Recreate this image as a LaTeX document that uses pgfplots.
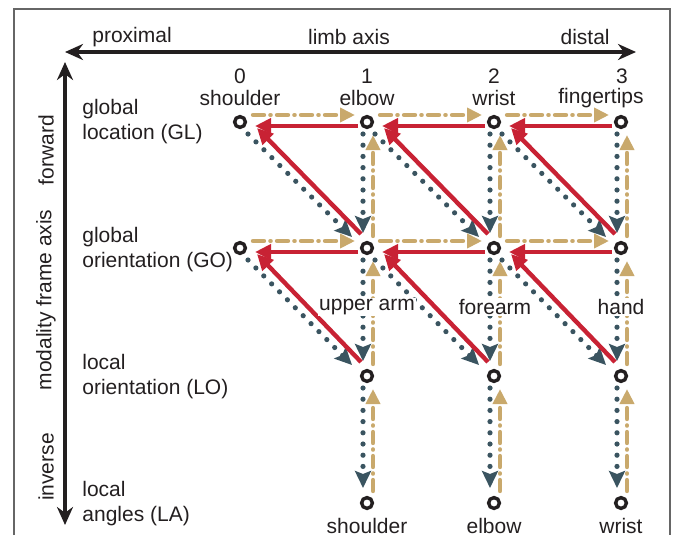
\documentclass[border=0pt]{standalone}
\usepackage{fontspec}
\setmainfont{Liberation Sans}
\usepackage{pgfplots}
\pgfplotsset{compat=1.18}
\usetikzlibrary{arrows.meta}

\definecolor{fwdred}{RGB}{200,34,52}
\definecolor{invtan}{RGB}{201,169,108}
\definecolor{dotteal}{RGB}{58,84,96}
\definecolor{ink}{RGB}{35,31,32}

\begin{document}
\begin{tikzpicture}[font=\fontsize{10.5}{12.5}\selectfont,
  tanarrow/.style={invtan, line width=2.2pt, line cap=round,
    dash pattern=on 5.5pt off 3.2pt on 0.1pt off 3.2pt,
    -{Triangle[length=7.5pt,width=7pt]}},
  redarrow/.style={fwdred, line width=2.2pt,
    -{Triangle[length=8pt,width=7.5pt]}},
  tealarrow/.style={dotteal, line width=2.6pt, line cap=round,
    dash pattern=on 0pt off 5.6pt,
    -{Stealth[length=8.5pt,width=8pt,inset=1.5pt]}},
  lbl/.style={text=ink, inner sep=0pt}]
\begin{axis}[
  width=336.5pt, height=267.5pt, scale only axis,
  xmin=0, xmax=673, ymin=0, ymax=535, y dir=reverse,
  hide axis, clip=false]

% extent and frame
\addplot[draw=none] coordinates {(0,0) (673,535)};
\addplot[gray!80!black, line width=0.6pt] coordinates {(14,535) (14,9) (670,9) (670,535)};

% limb axis and modality frame axis
\addplot[ink, line width=1.6pt, {Stealth[length=9pt,width=8pt]}-{Stealth[length=9pt,width=8pt]}]
  coordinates {(65,52) (636,52)};
\addplot[ink, line width=1.6pt, {Stealth[length=9pt,width=8pt]}-{Stealth[length=9pt,width=8pt]}]
  coordinates {(65,62) (65,525)};

% forward chain, tan dash-dot (proximal -> distal)
\addplot[tanarrow] coordinates {(253,115) (355,115)};
\addplot[tanarrow] coordinates {(380,115) (482,115)};
\addplot[tanarrow] coordinates {(507,115) (609,115)};
\addplot[tanarrow] coordinates {(253,241) (355,241)};
\addplot[tanarrow] coordinates {(380,241) (482,241)};
\addplot[tanarrow] coordinates {(507,241) (609,241)};

% tan vertical (upwards)
\addplot[tanarrow] coordinates {(373,236) (373,135)};
\addplot[tanarrow] coordinates {(500,236) (500,135)};
\addplot[tanarrow] coordinates {(627,236) (627,135)};
\addplot[tanarrow] coordinates {(373,364) (373,261)};
\addplot[tanarrow] coordinates {(500,364) (500,261)};
\addplot[tanarrow] coordinates {(627,364) (627,261)};
\addplot[tanarrow] coordinates {(373,491) (373,389)};
\addplot[tanarrow] coordinates {(500,491) (500,389)};
\addplot[tanarrow] coordinates {(627,491) (627,389)};

% teal dotted diagonals
\addplot[tealarrow] coordinates {(248,134) (352,237)};
\addplot[tealarrow] coordinates {(375,134) (479,237)};
\addplot[tealarrow] coordinates {(502,134) (606,237)};
\addplot[tealarrow] coordinates {(248,260) (352,365)};
\addplot[tealarrow] coordinates {(375,260) (479,365)};
\addplot[tealarrow] coordinates {(502,260) (606,365)};

% teal dotted vertical (downwards)
\addplot[tealarrow] coordinates {(363,134) (363,233)};
\addplot[tealarrow] coordinates {(490,134) (490,233)};
\addplot[tealarrow] coordinates {(617,134) (617,233)};
\addplot[tealarrow] coordinates {(363,260) (363,361)};
\addplot[tealarrow] coordinates {(490,260) (490,361)};
\addplot[tealarrow] coordinates {(617,260) (617,361)};
\addplot[tealarrow] coordinates {(363,388) (363,488)};
\addplot[tealarrow] coordinates {(490,388) (490,488)};
\addplot[tealarrow] coordinates {(617,388) (617,488)};

% red horizontal (distal -> proximal)
\addplot[redarrow] coordinates {(358,126) (255,126)};
\addplot[redarrow] coordinates {(485,126) (382,126)};
\addplot[redarrow] coordinates {(612,126) (509,126)};
\addplot[redarrow] coordinates {(358,252) (255,252)};
\addplot[redarrow] coordinates {(485,252) (382,252)};
\addplot[redarrow] coordinates {(612,252) (509,252)};

% red diagonals
\addplot[redarrow] coordinates {(361,234) (257,128)};
\addplot[redarrow] coordinates {(488,234) (384,128)};
\addplot[redarrow] coordinates {(615,234) (511,128)};
\addplot[redarrow] coordinates {(361,362) (257,254)};
\addplot[redarrow] coordinates {(488,362) (384,254)};
\addplot[redarrow] coordinates {(615,362) (511,254)};

% joints / frames
\addplot[only marks, mark=*, mark size=2.7pt,
  mark options={fill=white, draw=ink, line width=1.7pt}] coordinates {
  (240,122) (367,122) (494,122) (621,122)
  (240,248) (367,248) (494,248) (621,248)
  (367,376) (494,376) (621,376)
  (367,503) (494,503) (621,503)};

% texts
\node[lbl, anchor=west] at (axis cs:92,37) {proximal};
\node[lbl] at (axis cs:349,37) {limb axis};
\node[lbl, anchor=east] at (axis cs:610,37) {distal};

\node[lbl] at (axis cs:240,76) {0};
\node[lbl] at (axis cs:367,76) {1};
\node[lbl] at (axis cs:494,76) {2};
\node[lbl] at (axis cs:622,76) {3};
\node[lbl] at (axis cs:240,98) {shoulder};
\node[lbl] at (axis cs:367,98) {elbow};
\node[lbl] at (axis cs:494,98) {wrist};
\node[lbl] at (axis cs:601,98) {fingertips};

\node[lbl, anchor=west, align=left] at (axis cs:82,122) {global\\location (GL)};
\node[lbl, anchor=west, align=left] at (axis cs:82,250) {global\\orientation (GO)};
\node[lbl, anchor=west, align=left] at (axis cs:82,377) {local\\orientation (LO)};
\node[lbl, anchor=west, align=left] at (axis cs:82,504) {local\\angles (LA)};

\node[lbl, rotate=90] at (axis cs:46,150) {forward};
\node[lbl, rotate=90] at (axis cs:46,300) {modality frame axis};
\node[lbl, rotate=90] at (axis cs:46,467) {inverse};

\node[lbl, fill=white, inner sep=0.5pt] at (axis cs:367,307) {upper arm};
\node[lbl, fill=white, inner sep=0.5pt] at (axis cs:495,307) {forearm};
\node[lbl, fill=white, inner sep=0.5pt] at (axis cs:621,307) {hand};

\node[lbl] at (axis cs:367,526) {shoulder};
\node[lbl] at (axis cs:494,526) {elbow};
\node[lbl] at (axis cs:621,526) {wrist};
\end{axis}
\end{tikzpicture}
\end{document}
